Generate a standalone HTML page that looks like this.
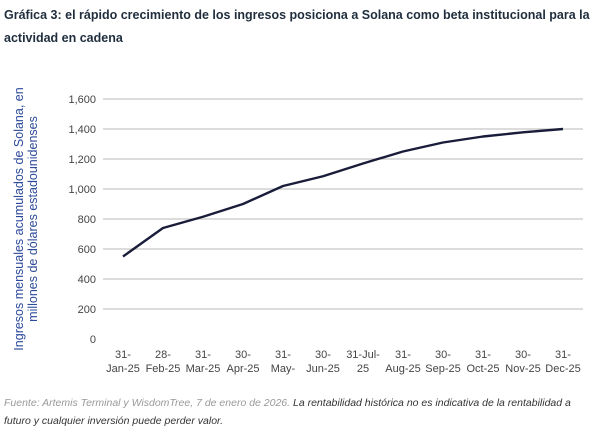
<!DOCTYPE html>
<html><head><meta charset="utf-8"><style>
body{margin:0;width:600px;height:432px;background:#fff;font-family:"Liberation Sans",sans-serif;overflow:hidden}
.title{position:absolute;left:4px;top:4px;width:590px;font-size:12.5px;font-weight:bold;color:#1f2d3d;line-height:23px}
.foot{position:absolute;left:4px;top:394px;width:590px;font-size:10.5px;font-style:italic;color:#555;line-height:18px}
.foot b{font-weight:normal;color:#333}
</style></head><body>
<div class="title">Gráfica 3: el rápido crecimiento de los ingresos posiciona a Solana como beta institucional para la actividad en cadena</div>
<svg id="c" width="600" height="432" style="position:absolute;left:0;top:0"></svg>
<div class="foot"><span style="color:#999">Fuente: Artemis Terminal y WisdomTree, 7 de enero de 2026. </span><b>La rentabilidad histórica no es indicativa de la rentabilidad a futuro y cualquier inversión puede perder valor.</b></div>
<script>
const categories=[["31-","Jan-25"],["28-","Feb-25"],["31-","Mar-25"],["30-","Apr-25"],["31-","May-","25"],["30-","Jun-25"],["31-Jul-","25"],["31-","Aug-25"],["30-","Sep-25"],["31-","Oct-25"],["30-","Nov-25"],["31-","Dec-25"]];
const revenue=[550,740,815,900,1020,1085,1170,1250,1310,1350,1378,1400];
const yTicks=[0,200,400,600,800,1000,1200,1400,1600];
const yTickLabels=["0","200","400","600","800","1,000","1,200","1,400","1,600"];
const svg=document.getElementById('c');const NS="http://www.w3.org/2000/svg";
const x0=103,x1=583,yb=339,yt=99,ymax=1600;
const bw=(x1-x0)/categories.length;
const X=i=>x0+bw*(i+0.5);
const Y=v=>yb-(v/ymax)*(yb-yt);
function mk(t,a,txt){const e=document.createElementNS(NS,t);for(const k in a)e.setAttribute(k,a[k]);if(txt!==undefined)e.textContent=txt;svg.appendChild(e);return e;}
yTicks.forEach((v,i)=>{
 if(v>0){const g=mk('line',{x1:x0,x2:x1,y1:Y(v),y2:Y(v),stroke:'#c8c8c8','stroke-width':1.3});
 
 }
 const t=mk('text',{x:96,y:Y(v)+4,'text-anchor':'end','font-size':11,fill:'#444'},yTickLabels[i]);
 
 
});
categories.forEach((c,i)=>{
 c.forEach((s,j)=>{const t=mk('text',{x:X(i),y:358+j*14,'text-anchor':'middle','font-size':11,fill:'#444'},s);
 
 });
});
const m=mk('rect',{x:0,y:376,width:600,height:18,fill:'#fff'});


const p=mk('polyline',{points:revenue.map((v,i)=>X(i)+','+Y(v)).join(' '),fill:'none',stroke:'#1a1d3a','stroke-width':2.4,'stroke-linejoin':'round'});


const yt1=mk('text',{transform:'translate(23,219) rotate(-90)','text-anchor':'middle','font-size':12.5,fill:'#2c4a9a'},'Ingresos mensuales acumulados de Solana, en');


const yt2=mk('text',{transform:'translate(37,219) rotate(-90)','text-anchor':'middle','font-size':12.5,fill:'#2c4a9a'},'millones de dólares estadounidenses');


</script>
</body></html>
